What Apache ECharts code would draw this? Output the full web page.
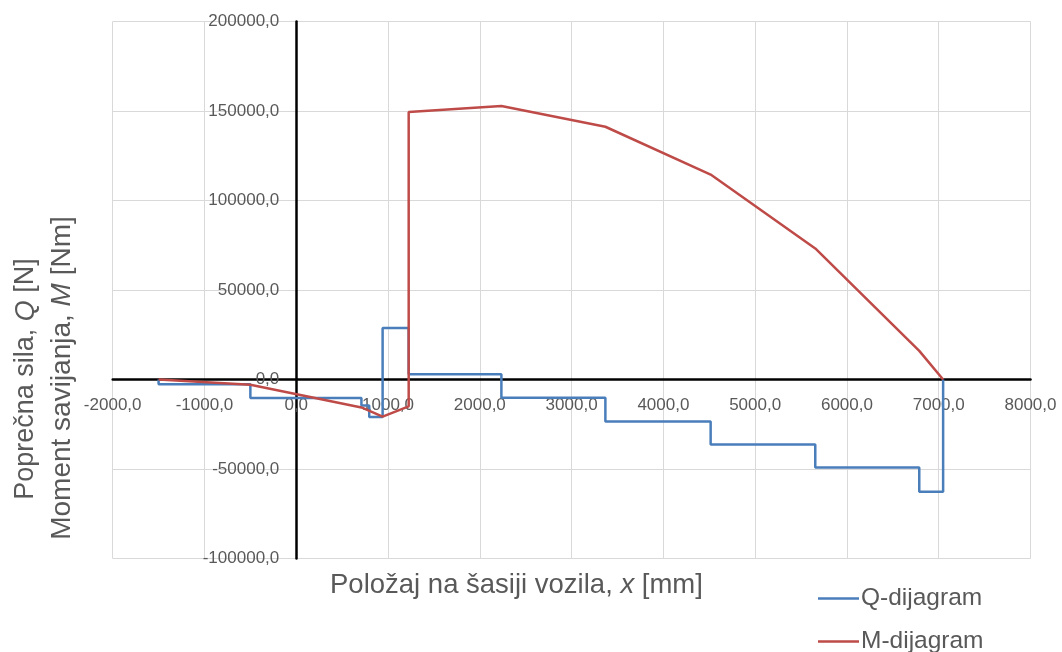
<!DOCTYPE html>
<html>
<head>
<meta charset="utf-8">
<script src="https://cdn.jsdelivr.net/npm/echarts@6/dist/echarts.min.js"></script>
<style>
  html, body { margin: 0; padding: 0; background: #ffffff; }
  #chart { width: 1062px; height: 652px; }
</style>
</head>
<body>
<div id="chart"></div>
<script>
// Shear force Q [N] along the chassis, as a stepped polyline (x in mm)
const qX = [-1500, -1500, -500, -500, 710, 710, 795, 795, 941, 941, 1225, 1225, 2235, 2235, 3368, 3368, 4515, 4515, 5655, 5655, 6788, 6788, 7048, 7048];
const qY = [0, -2700, -2700, -10400, -10400, -14500, -14500, -21000, -21000, 28800, 28800, 3000, 3000, -10200, -10200, -23500, -23500, -36300, -36300, -49200, -49200, -62700, -62700, 0];

// Bending moment M [Nm] along the chassis (x in mm)
const mX = [-1500, -500, 710, 941, 1225, 1225, 2235, 3368, 4515, 5655, 6788, 7048];
const mY = [0, -2900, -15600, -20700, -15000, 149500, 152800, 141200, 114500, 73200, 16000, 0];

// Axis settings
const xMin = -2000, xMax = 8000, xStep = 1000;
const yMin = -100000, yMax = 200000, yStep = 50000;

const seriesNames = ['Q-dijagram', 'M-dijagram'];
const seriesColors = ['#4a7ebb', '#be4b48'];

const pairs = (xs, ys) => xs.map((x, i) => [x, ys[i]]);
const fmt = v => v.toFixed(1).replace('.', ',');

const textColor = '#595959';
const font = 'Liberation Sans';
const grid = { left: 112.7, right: 31.5, top: 21.5, bottom: 93.5 };
const W = 1062, H = 652;

const legendBase = {
  orient: 'vertical', left: 818, icon: 'rect', padding: 0,
  itemWidth: 41, itemHeight: 2.5, itemGap: 0,
  textStyle: { color: textColor, fontFamily: font, fontSize: 24.5, padding: [0, 0, 0, -3] }
};

const chart = echarts.init(document.getElementById('chart'), null, { renderer: 'canvas' });
chart.setOption({
  animation: false,
  backgroundColor: '#ffffff',
  grid: Object.assign({ containLabel: false }, grid),
  xAxis: {
    type: 'value', min: xMin, max: xMax, interval: xStep,
    axisLine: { onZero: false, lineStyle: { color: '#000000', width: 2.5 } },
    axisTick: { show: false },
    axisLabel: { formatter: fmt, color: textColor, fontFamily: font, fontSize: 17, margin: 17, showMinLabel: true, showMaxLabel: true },
    splitLine: { show: true, lineStyle: { color: '#d9d9d9', width: 1 } }
  },
  yAxis: {
    type: 'value', min: yMin, max: yMax, interval: yStep,
    axisLine: { onZero: false, lineStyle: { color: '#000000', width: 2.5 } },
    axisTick: { show: false },
    axisLabel: { formatter: fmt, color: textColor, fontFamily: font, fontSize: 17, margin: 17 },
    splitLine: { show: true, lineStyle: { color: '#d9d9d9', width: 1 } }
  },
  legend: [
    Object.assign({ top: 586, data: [seriesNames[0]] }, legendBase),
    Object.assign({ top: 629, data: [seriesNames[1]] }, legendBase)
  ],
  series: [
    {
      name: seriesNames[0], type: 'line', data: pairs(qX, qY),
      symbol: 'none', color: seriesColors[0],
      lineStyle: { color: seriesColors[0], width: 2.5 }, z: 3
    },
    {
      name: seriesNames[1], type: 'line', data: pairs(mX, mY),
      symbol: 'none', color: seriesColors[1],
      lineStyle: { color: seriesColors[1], width: 2.5 }, z: 4
    }
  ],
  graphic: [
    {
      type: 'text', left: 330, top: 571,
      style: {
        text: '{a|Položaj na šasiji vozila, }{i|x}{a| [mm]}',
        rich: {
          a: { fill: textColor, fontFamily: font, fontSize: 27.5 },
          i: { fill: textColor, fontFamily: font, fontSize: 27.5, fontStyle: 'italic' }
        }
      }
    },
    {
      type: 'text', x: 26, y: 379, rotation: Math.PI / 2,
      style: {
        text: '{a|Poprečna sila, }{i|Q}{a| [N]}',
        align: 'center', verticalAlign: 'middle',
        rich: {
          a: { fill: textColor, fontFamily: font, fontSize: 27 },
          i: { fill: textColor, fontFamily: font, fontSize: 27, fontStyle: 'italic' }
        }
      }
    },
    {
      type: 'text', x: 62, y: 378, rotation: Math.PI / 2,
      style: {
        text: '{a|Moment savijanja, }{i|M}{a| [Nm]}',
        align: 'center', verticalAlign: 'middle',
        rich: {
          a: { fill: textColor, fontFamily: font, fontSize: 28 },
          i: { fill: textColor, fontFamily: font, fontSize: 28, fontStyle: 'italic' }
        }
      }
    }
  ]
});

// Move both axes (line and labels) onto the origin of the other axis
const origin = chart.convertToPixel({ gridIndex: 0 }, [0, 0]);
chart.setOption({
  xAxis: { offset: origin[1] - (H - grid.bottom) },
  yAxis: { offset: grid.left - origin[0] }
});
</script>
</body>
</html>
